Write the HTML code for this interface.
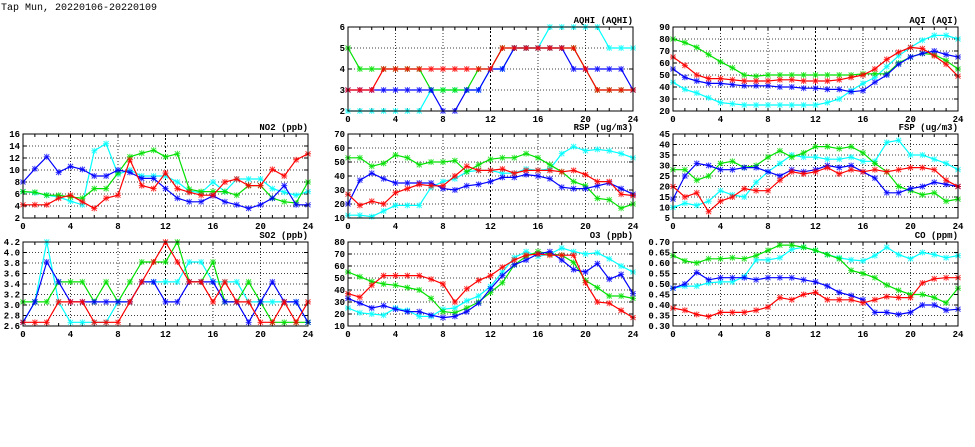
<!DOCTYPE html>
<html><head><meta charset="utf-8">
<style>
html,body{margin:0;padding:0;background:#fff;}
svg{display:block;}
text{font-family:"Liberation Mono",monospace;font-weight:bold;font-size:9px;fill:#000;}
</style></head>
<body>
<svg id="s" width="975" height="447" xmlns="http://www.w3.org/2000/svg">
<text x="1" y="10" style="font-weight:normal;font-size:10px">Tap Mun, 20220106-20220109</text>
</svg>
<script>
const C={c:"#00ffff",g:"#00e000",b:"#0000ff",r:"#ff0000"};
const P=[
{t:"AQHI (AQHI)",x:348,y:27,min:2,max:6,ticks:[2,3,4,5,6],fmt:v=>v,
 d:{c:[2,2,2,2,2,2,2,3,3,3,3,3,4,4,5,5,5,6,6,6,6,6,5,5,5],
 g:[5,4,4,4,4,4,4,3,3,3,3,4,4,5,5,5,5,5,5,5,4,3,3,3,3],
 b:[3,3,3,3,3,3,3,3,2,2,3,3,4,4,5,5,5,5,5,4,4,4,4,4,3],
 r:[3,3,3,4,4,4,4,4,4,4,4,4,4,5,5,5,5,5,5,5,4,3,3,3,3]}},
{t:"AQI (AQI)",x:673,y:27,min:20,max:90,ticks:[20,30,40,50,60,70,80,90],fmt:v=>v,
 d:{c:[44,38,35,31,27,26,25,25,25,25,25,25,25,27,30,37,43,48,57,66,73,79,83,83,80],
 g:[80,77,73,67,61,56,50,49,50,50,50,50,50,50,50,50,51,51,51,60,65,68,67,62,55],
 b:[55,48,45,43,43,42,41,41,41,40,40,39,39,38,38,36,37,44,50,59,65,68,70,67,65],
 r:[65,58,50,47,47,46,45,45,45,46,46,45,45,45,46,48,50,55,63,69,73,72,66,59,49]}},
{t:"NO2 (ppb)",x:23,y:134,min:2,max:16,ticks:[2,4,6,8,10,12,14,16],fmt:v=>v,
 d:{c:[6.4,6.2,5.8,5.5,4.8,4.2,13.2,14.4,9.3,10,9,9,9,8,6.5,6.2,8,6.4,8.5,8.5,8.5,6.9,6.3,5.8,6.4],
 g:[6.4,6.3,5.8,5.8,5.5,5.3,6.9,6.9,9.5,12.2,12.8,13.3,12.2,12.7,6.8,6.4,6.4,6.4,5.8,7.4,7.4,5.3,4.7,4.5,8],
 b:[8,10.2,12.2,9.6,10.6,10.1,9,9,10,9.6,8.6,8.6,6.9,5.3,4.7,4.7,5.7,4.7,4.2,3.6,4.2,5.3,7.4,4.2,4.2],
 r:[4.2,4.2,4.2,5.3,5.8,4.7,3.6,5.3,5.8,11.7,7.4,6.9,9.5,6.9,6.3,5.8,5.8,8,8.5,7.4,7.4,10.1,9,11.7,12.7]}},
{t:"RSP (ug/m3)",x:348,y:134,min:10,max:70,ticks:[10,20,30,40,50,60,70],fmt:v=>v,
 d:{c:[12,12,11,15,19,19,19,32,36,38,43,44,44,42,42,45,44,45,56,61,58,59,58,56,53],
 g:[53,53,47,49,55,53,48,50,50,51,43,48,52,53,53,56,53,48,43,36,33,24,23,17,20],
 b:[20,37,42,38,35,35,35,35,31,30,33,34,36,39,39,41,40,38,32,31,31,33,35,31,27],
 r:[27,19,22,20,28,31,34,33,33,40,47,44,44,45,42,44,44,44,43,44,41,36,36,27,26]}},
{t:"FSP (ug/m3)",x:673,y:134,min:5,max:45,ticks:[5,10,15,20,25,30,35,40,45],fmt:v=>v,
 d:{c:[10,12,11,13,18,16,15,22,27,31,35,34,34,33,33,34,32,32,41,42,35,35,33,31,28],
 g:[28,28,23,25,31,32,29,30,34,37,34,36,39,39,38,39,36,31,27,20,18,16,17,13,14],
 b:[14,25,31,30,28,28,29,29,27,25,28,27,28,30,29,30,27,24,17,17,19,20,22,21,20],
 r:[20,15,17,8,13,15,19,18,18,23,27,26,27,29,26,28,27,28,27,28,29,29,28,23,20]}},
{t:"SO2 (ppb)",x:23,y:242,min:2.6,max:4.2,ticks:[2.6,2.8,3.0,3.2,3.4,3.6,3.8,4.0,4.2],fmt:v=>v.toFixed(1),
 d:{c:[2.67,3.06,4.2,3.06,2.67,2.67,2.67,2.67,3.06,3.06,3.44,3.44,3.44,3.44,3.82,3.82,3.44,3.44,3.44,3.06,3.06,3.06,3.06,3.06,2.67],
 g:[3.06,3.06,3.06,3.44,3.44,3.44,3.06,3.44,3.06,3.44,3.82,3.82,3.82,4.2,3.44,3.44,3.82,3.06,3.06,3.44,3.06,2.67,2.67,2.67,2.67],
 b:[2.67,3.06,3.82,3.44,3.06,3.06,3.06,3.06,3.06,3.06,3.44,3.44,3.06,3.06,3.44,3.44,3.44,3.06,3.06,2.67,3.06,3.44,3.06,3.06,2.67],
 r:[2.67,2.67,2.67,3.06,3.06,3.06,2.67,2.67,2.67,3.06,3.44,3.82,4.2,3.82,3.44,3.44,3.06,3.44,3.06,3.06,2.67,2.67,3.06,2.67,3.06]}},
{t:"O3 (ppb)",x:348,y:242,min:10,max:80,ticks:[10,20,30,40,50,60,70,80],fmt:v=>v,
 d:{c:[25,21,20,19,25,23,18,18,24,25,31,35,43,55,67,72,68,70,75,72,70,71,66,60,55],
 g:[55,51,47,45,44,42,40,33,22,21,25,30,38,46,61,68,72,70,69,63,48,42,35,35,33],
 b:[33,29,25,27,24,22,22,19,17,18,22,29,41,52,61,65,70,72,65,57,55,62,49,53,37],
 r:[37,34,44,52,52,52,52,49,45,30,41,48,52,59,65,69,70,69,69,69,46,30,29,23,17]}},
{t:"CO (ppm)",x:673,y:242,min:0.3,max:0.7,ticks:[0.3,0.35,0.4,0.45,0.5,0.55,0.6,0.65,0.7],fmt:v=>v.toFixed(2),
 d:{c:[.48,.49,.49,.505,.51,.51,.535,.615,.615,.625,.665,.675,.66,.64,.625,.615,.61,.635,.675,.64,.62,.65,.64,.625,.635],
 g:[.635,.61,.60,.62,.62,.625,.62,.635,.66,.685,.685,.675,.66,.64,.62,.565,.55,.53,.495,.47,.45,.45,.435,.41,.48],
 b:[.48,.50,.555,.52,.53,.53,.53,.52,.53,.53,.53,.52,.51,.49,.46,.445,.425,.365,.365,.355,.365,.40,.40,.375,.38],
 r:[.385,.375,.355,.345,.365,.365,.365,.375,.39,.435,.425,.45,.46,.425,.425,.425,.41,.425,.44,.435,.435,.505,.525,.53,.53]}}
];
const W=285,H=84;let h="";
for(const p of P){
 const X=i=>p.x+i*W/24, Y=v=>p.y+H-(v-p.min)/(p.max-p.min)*H;
 h+=`<rect x="${p.x}" y="${p.y}" width="${W}" height="${H}" fill="#fff"/>`;
 for(const t of p.ticks){const y=Y(t);
  if(t!=p.min&&t!=p.max)h+=`<line x1="${p.x}" x2="${p.x+W}" y1="${y}" y2="${y}" stroke="#000" stroke-width="0.8" stroke-dasharray="1,2"/>`;
  h+=`<line x1="${p.x}" x2="${p.x+4}" y1="${y}" y2="${y}" stroke="#000"/><line x1="${p.x+W-4}" x2="${p.x+W}" y1="${y}" y2="${y}" stroke="#000"/>`;
  h+=`<text x="${p.x-3}" y="${y+3}" text-anchor="end">${p.fmt(t)}</text>`;}
 for(let i=0;i<=24;i+=4){const x=X(i);
  if(i>0&&i<24)h+=`<line x1="${x}" x2="${x}" y1="${p.y}" y2="${p.y+H}" stroke="#000" stroke-width="${i==12?1:0.8}" stroke-dasharray="${i==12?'2,2':'1,2'}"/>`;
  h+=`<text x="${x}" y="${p.y+H+11}" text-anchor="middle">${i}</text>`;}
 for(let i=1;i<24;i++){const x=X(i);h+=`<line x1="${x}" x2="${x}" y1="${p.y+H}" y2="${p.y+H-3}" stroke="#000"/><line x1="${x}" x2="${x}" y1="${p.y}" y2="${p.y+3}" stroke="#000"/>`;}
 h+=`<text x="${p.x+W}" y="${p.y-4}" text-anchor="end">${p.t}</text>`;
 for(const k of ["c","g","b","r"]){const a=p.d[k];
  h+=`<polyline fill="none" stroke="${C[k]}" stroke-width="1.2" points="${a.map((v,i)=>X(i).toFixed(1)+","+Y(v).toFixed(1)).join(" ")}"/>`;
  let m="";a.forEach((v,i)=>{const x=X(i),y=Y(v);m+=`M${x-2.5},${y-2.5}L${x+2.5},${y+2.5}M${x-2.5},${y+2.5}L${x+2.5},${y-2.5}M${x-3},${y}L${x+3},${y}M${x},${y-3}L${x},${y+3}`;});
  h+=`<path d="${m}" stroke="${C[k]}" stroke-width="1" fill="none" opacity="0.8"/>`;}
 h+=`<rect x="${p.x}" y="${p.y}" width="${W}" height="${H}" fill="none" stroke="#000" stroke-width="1"/>`;
}
document.getElementById("s").insertAdjacentHTML("beforeend",h);
</script>
</body></html>
